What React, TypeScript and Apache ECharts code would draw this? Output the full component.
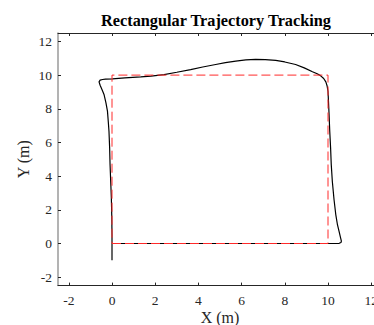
import React, { useEffect, useRef } from "react";
import * as echarts from "echarts";

const titleText = "Rectangular Trajectory Tracking";
const xAxisName = "X (m)";
const yAxisName = "Y (m)";
const xTicks = [-2, 0, 2, 4, 6, 8, 10, 12];
const yTicks = [-2, 0, 2, 4, 6, 8, 10, 12];

const refX = [0, 10, 10, 0, 0];
const refY = [0, 0, 10, 10, 0];

const trajX = [0, 0, 2, 4, 6, 8, 10, 10.4, 10.52, 10.6, 10.62, 10.58, 10.51, 10.44, 10.36, 10.28, 10.2, 10.15, 10.12, 10.08, 10.05, 10.02, 10.0, 9.96, 9.9, 9.8, 9.65, 9.5, 9.28, 8.9, 8.5, 8.0, 7.58, 7.1, 6.65, 6.2, 5.73, 5.25, 4.8, 4.2, 3.64, 3.0, 2.41, 1.8, 1.33, 0.6, 0.02, -0.3, -0.44, -0.55, -0.6, -0.55, -0.45, -0.37, -0.28, -0.21, -0.17, -0.14, -0.11, -0.09, -0.06, -0.03, -0.01, 0, 0];
const trajY = [-1, 0, 0, 0, 0, 0, 0, 0, 0.01, 0.06, 0.14, 0.35, 0.73, 1.1, 1.72, 2.6, 3.7, 4.7, 5.68, 6.7, 7.66, 8.5, 9.04, 9.35, 9.6, 9.8, 9.97, 10.08, 10.2, 10.43, 10.63, 10.78, 10.87, 10.92, 10.93, 10.9, 10.83, 10.74, 10.63, 10.48, 10.33, 10.17, 10.03, 9.94, 9.89, 9.83, 9.78, 9.76, 9.74, 9.7, 9.6, 9.4, 9.1, 8.85, 8.35, 7.86, 7.2, 6.67, 5.7, 4.69, 3.7, 2.71, 1.6, 0.53, 0];

const FONT = "'Liberation Serif', 'DejaVu Serif', serif";

export default function App() {
  const ref = useRef<HTMLDivElement>(null);
  useEffect(() => {
    if (!ref.current) return;
    const chart = echarts.init(ref.current, undefined, { renderer: "svg" });
    const trajData = trajX.map((x, i) => [x, trajY[i]]);
    const refData = refX.map((x, i) => [x, refY[i]]);
    const axisColor = "#262626";
    chart.setOption({
      animation: false,
      backgroundColor: "#ffffff",
      title: {
        text: titleText,
        left: 101,
        top: 12,
        padding: 0,
        textStyle: {
          fontFamily: FONT,
          fontWeight: "bold",
          fontSize: 16.3,
          color: "#000000",
        },
      },
      grid: { left: 58, top: 33, width: 324, height: 252.6, containLabel: false, outerBoundsMode: "none" },
      xAxis: [
        {
          type: "value",
          position: "bottom",
          min: -2.5,
          max: 12.5,
          name: xAxisName,
          nameLocation: "middle",
          nameGap: 24,
          nameMoveOverlap: false,
          nameTextStyle: { fontFamily: FONT, fontSize: 16, color: axisColor },
          axisLine: { show: true, onZero: false, lineStyle: { color: axisColor, width: 1 } },
          axisTick: { show: true, inside: true, length: 3, customValues: xTicks, lineStyle: { color: axisColor } },
          axisLabel: { show: true, customValues: xTicks, margin: 8, fontFamily: FONT, fontSize: 13.5, color: axisColor },
          splitLine: { show: false },
        },
        {
          type: "value",
          position: "top",
          min: -2.5,
          max: 12.5,
          axisLine: { show: true, onZero: false, lineStyle: { color: axisColor, width: 1 } },
          axisTick: { show: true, inside: true, length: 3, customValues: xTicks, lineStyle: { color: axisColor } },
          axisLabel: { show: false },
          splitLine: { show: false },
        },
      ],
      yAxis: [
        {
          type: "value",
          position: "left",
          min: -2.5,
          max: 12.5,
          name: yAxisName,
          nameLocation: "middle",
          nameGap: 27,
          nameMoveOverlap: false,
          nameTextStyle: { fontFamily: FONT, fontSize: 16, color: axisColor },
          axisLine: { show: true, onZero: false, lineStyle: { color: "#9a9a9a", width: 1.5 } },
          axisTick: { show: true, inside: true, length: 3, customValues: yTicks, lineStyle: { color: axisColor } },
          axisLabel: { show: true, customValues: yTicks, margin: 6, fontFamily: FONT, fontSize: 13.5, color: axisColor },
          splitLine: { show: false },
        },
      ],
      series: [
        {
          type: "line",
          data: trajData,
          xAxisIndex: 0,
          yAxisIndex: 0,
          showSymbol: false,
          symbol: "none",
          smooth: false,
          lineStyle: { color: "#000000", width: 1.2 },
          z: 2,
        },
        {
          type: "line",
          data: refData,
          xAxisIndex: 0,
          yAxisIndex: 0,
          showSymbol: false,
          symbol: "none",
          lineStyle: { color: "#ff2a2a", width: 1, type: [9, 4] },
          z: 3,
        },
      ],
    });
    return () => chart.dispose();
  }, []);
  return (
    <div
      ref={ref}
      style={{ position: "fixed", left: 0, top: 0, width: 374, height: 325, background: "#fff" }}
    />
  );
}
